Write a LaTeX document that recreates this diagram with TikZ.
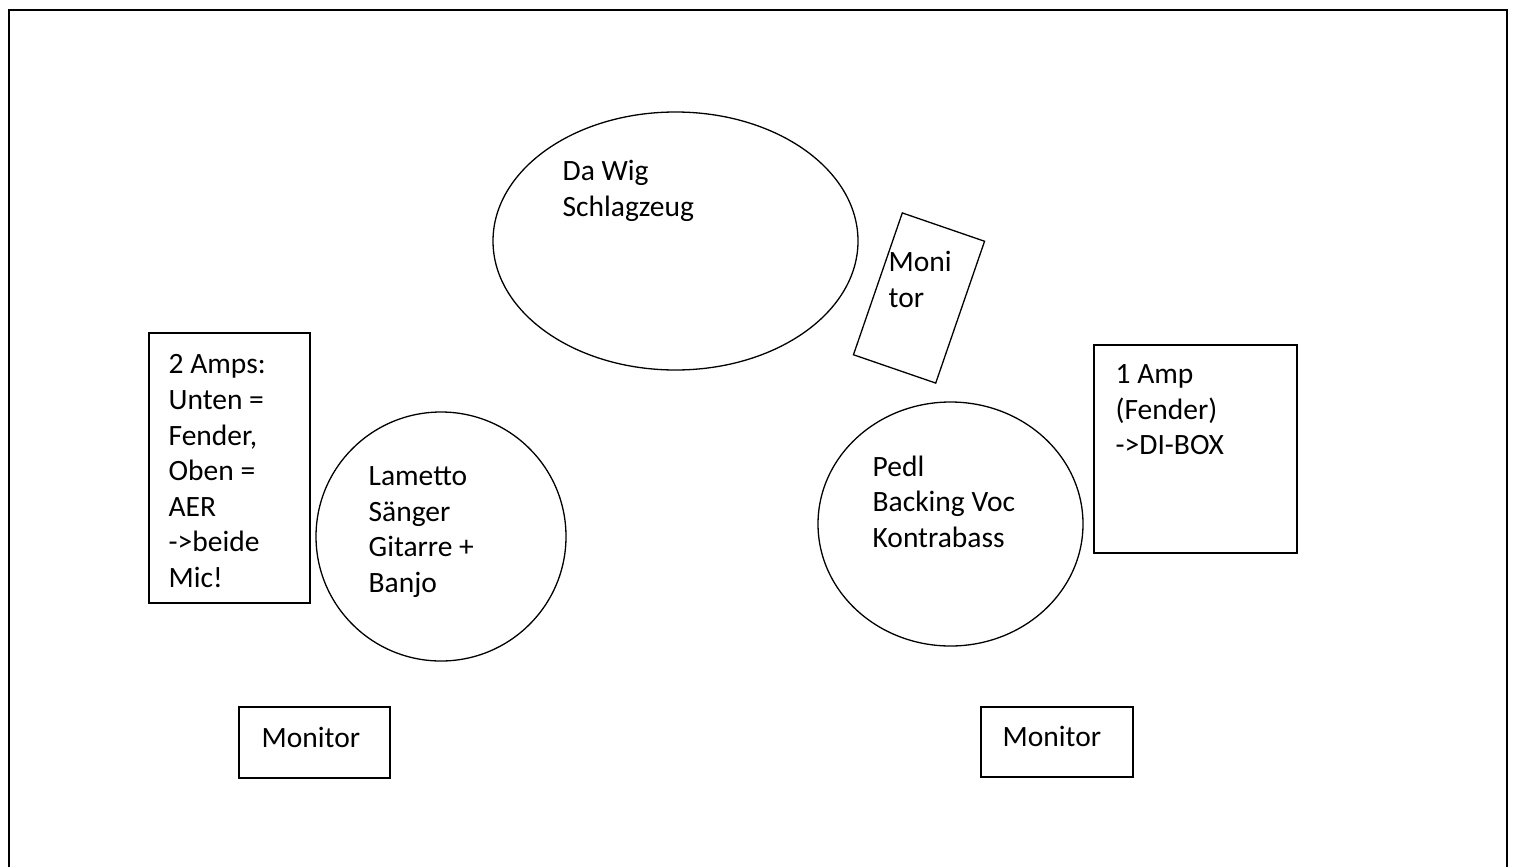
\documentclass[tikz,border=0pt]{standalone}
\usepackage{fontspec}
\setmainfont{Carlito}
\usetikzlibrary{positioning, shapes}

\begin{document}
\begin{tikzpicture}[x=1pt,y=-1pt,line width=1.3pt,
        every node/.style={font=\fontsize{29.5}{35.6}\selectfont},
        txt/.style={anchor=north west, inner sep=0pt, align=left}]
        \useasboundingbox (0,0) rectangle (1514,867);
        % stage frame, open at the bottom
        \draw[line width=2.6pt] (9,867) -- (9,10) -- (1507,10) -- (1507,867);

        \node at (675.5,241) [ellipse, draw, minimum width=365pt, minimum height=258pt] (drums) {};
        \node at (562,160) [txt] (drums_txt) {Da Wig\\Schlagzeug};

        \node at (919,298) [rectangle, draw, rotate=-19, minimum width=87pt, minimum height=150pt] (monTop) {};
        \node at (888,251) [txt] (monTop_txt) {Moni\\tor};

        \node at (441,536.5) [ellipse, draw, minimum width=250pt, minimum height=249pt] (lametto) {};
        \node at (368,466) [txt] (lametto_txt) {Lametto\\Sänger\\Gitarre +\\Banjo};

        \node at (950.5,524) [ellipse, draw, minimum width=265pt, minimum height=244pt] (pedl) {};
        \node at (872,455) [txt] (pedl_txt) {Pedl\\Backing Voc\\Kontrabass};

        \node at (229.5,468) [rectangle, draw, minimum width=161pt, minimum height=270pt] (ampL) {};
        \node at (168,354) [txt] (ampL_txt) {2 Amps:\\Unten =\\Fender,\\Oben =\\AER\\->beide\\Mic!};

        \node at (1195.5,449) [rectangle, draw, minimum width=203pt, minimum height=208pt] (ampR) {};
        \node at (1115,364) [txt] (ampR_txt) {1 Amp\\(Fender)\\->DI-BOX};

        \node at (314.5,742.5) [rectangle, draw, minimum width=151pt, minimum height=71pt] (monL) {};
        \node at (261,727) [txt] (monL_txt) {Monitor};

        \node at (1057,742) [rectangle, draw, minimum width=152pt, minimum height=70pt] (monR) {};
        \node at (1002,726) [txt] (monR_txt) {Monitor};
\end{tikzpicture}
\end{document}
